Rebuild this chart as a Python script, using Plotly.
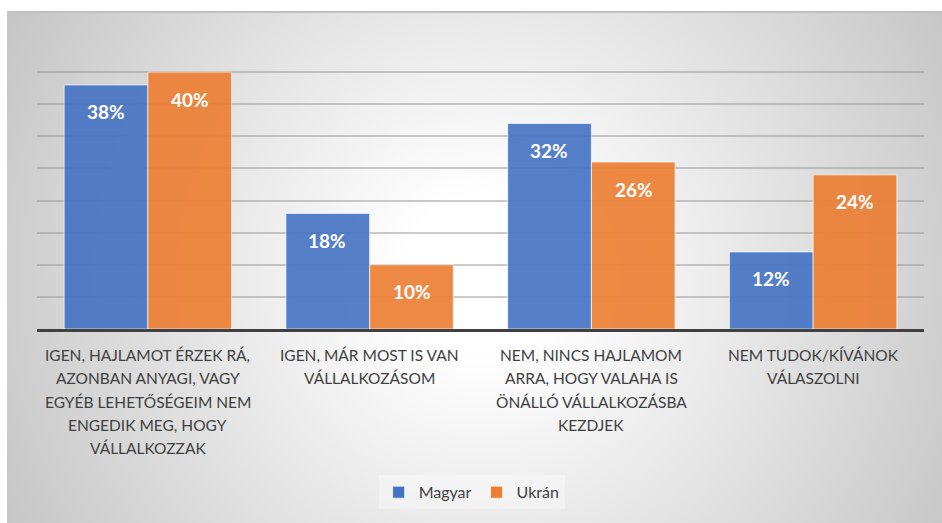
import base64
import plotly.graph_objects as go

# data
categories = ["cat1", "cat2", "cat3", "cat4"]
category_lines = [
    ["IGEN, HAJLAMOT ÉRZEK RÁ,", "AZONBAN ANYAGI, VAGY", "EGYÉB LEHETŐSÉGEIM NEM",
     "ENGEDIK MEG, HOGY", "VÁLLALKOZZAK"],
    ["IGEN, MÁR MOST IS VAN", "VÁLLALKOZÁSOM"],
    ["NEM, NINCS HAJLAMOM", "ARRA, HOGY VALAHA IS", "ÖNÁLLÓ VÁLLALKOZÁSBA", "KEZDJEK"],
    ["NEM TUDOK/KÍVÁNOK", "VÁLASZOLNI"],
]
magyar = [38, 18, 32, 12]
ukran = [40, 10, 26, 24]

BLUE = "#4472C4"
ORANGE = "#ED7D31"
TEXT = "#404040"
FONT = "Lato"

# radial gray background (white in the middle, gray towards the corners)
svg = """<svg xmlns='http://www.w3.org/2000/svg' width='935' height='512' viewBox='0 0 935 512' preserveAspectRatio='none'>
<defs><radialGradient id='g' gradientUnits='userSpaceOnUse' cx='475' cy='265' r='560'>
<stop offset='0.14' stop-color='#ffffff'/><stop offset='1' stop-color='#c3c3c3'/>
</radialGradient></defs>
<rect x='0' y='0' width='935' height='512' fill='url(#g)'/>
<line x1='0' y1='1' x2='935' y2='1' stroke='#c0c0c0' stroke-width='2'/>
</svg>"""
bg_src = "data:image/svg+xml;base64," + base64.b64encode(svg.encode()).decode()

fig = go.Figure()
fig.add_trace(go.Bar(
    x=categories, y=magyar, name="Magyar",
    marker=dict(color=BLUE, opacity=0.9, line=dict(color="rgba(255,255,255,0.7)", width=1)),
))
fig.add_trace(go.Bar(
    x=categories, y=ukran, name="Ukrán",
    marker=dict(color=ORANGE, opacity=0.9, line=dict(color="rgba(255,255,255,0.7)", width=1)),
))

annotations = []
# value labels inside bars
for i, cat in enumerate(categories):
    for val, off in ((magyar[i], -0.19), (ukran[i], 0.19)):
        annotations.append(dict(
            x=i + off, y=val, xref="x", yref="y", text=f"{val}%",
            showarrow=False, yshift=-27,
            font=dict(family=FONT, size=19, color="white", weight="bold"),
        ))
# multi-line category labels
for i, lines in enumerate(category_lines):
    for j, line in enumerate(lines):
        annotations.append(dict(
            x=i, y=0, xref="x", yref="y", text=line, showarrow=False,
            yanchor="middle", yshift=-26 - 23.3 * j,
            font=dict(family=FONT, size=15.5, color=TEXT),
        ))

fig.update_layout(
    width=942, height=523,
    margin=dict(l=37, r=18, t=40, b=194),
    paper_bgcolor="white",
    plot_bgcolor="rgba(0,0,0,0)",
    barmode="group", bargap=0.245, bargroupgap=0,
    font=dict(family=FONT, color=TEXT),
    showlegend=True,
    legend=dict(
        orientation="h", x=0.49, xanchor="center", y=-0.565, yanchor="middle",
        bgcolor="rgba(255,255,255,0.35)", font=dict(size=16, color=TEXT),
        itemwidth=30, tracegroupgap=0,
    ),
    images=[dict(
        source=bg_src, xref="paper", yref="paper",
        x=-30 / 887, y=318 / 289, sizex=935 / 887, sizey=512 / 289,
        xanchor="left", yanchor="top", sizing="stretch", layer="below",
    )],
    annotations=annotations,
)
fig.update_xaxes(
    range=[-0.5, 3.5], showticklabels=False, showgrid=False,
    showline=True, linecolor="#404040", linewidth=3, ticks="",
)
fig.update_yaxes(
    range=[0, 45], dtick=5, showticklabels=False, showline=False,
    gridcolor="rgba(150,150,150,0.5)", gridwidth=2, zeroline=False, ticks="",
)

fig.write_html(
    "out.html",
    config={"displayModeBar": False},
    post_script="document.body.style.margin='0';document.body.style.overflow='hidden';",
)
